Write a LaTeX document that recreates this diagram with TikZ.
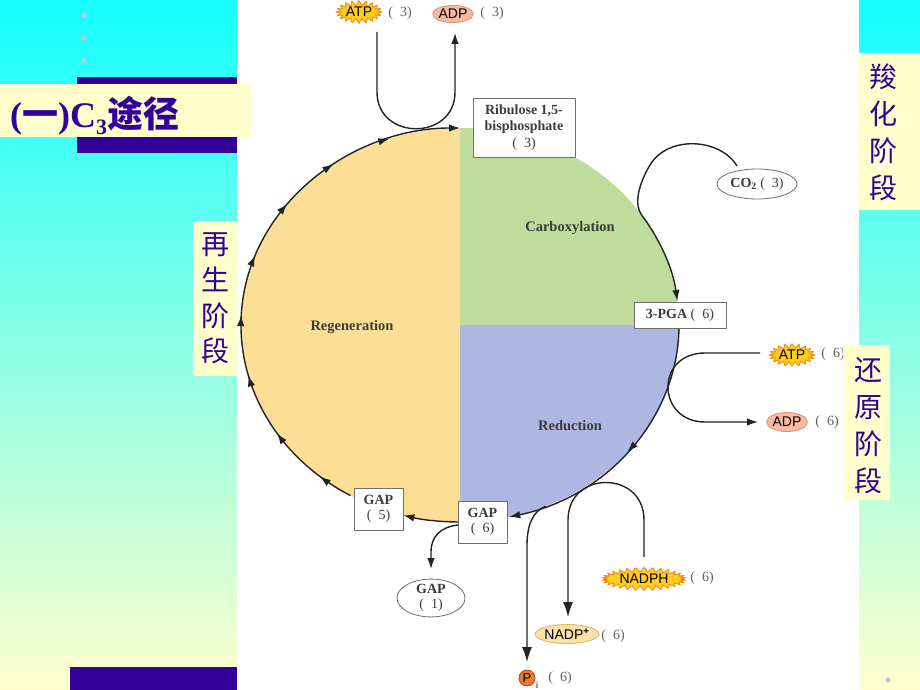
\documentclass[tikz,border=0pt]{standalone}
\usepackage{fontspec}
\setmainfont{Liberation Serif}
\newfontfamily\sansf{Liberation Sans}
\newfontfamily\cjk{Noto Sans CJK SC}
\usetikzlibrary{shapes.geometric,shapes.symbols,arrows.meta,decorations.markings,calc}
\definecolor{indigo}{RGB}{51,0,153}
\definecolor{bgcyan}{RGB}{20,255,255}
\definecolor{bgmid}{RGB}{150,255,232}
\definecolor{bgyel}{RGB}{255,255,204}
\definecolor{regyel}{RGB}{252,223,148}
\definecolor{carbgr}{RGB}{191,220,156}
\definecolor{redbl}{RGB}{174,183,226}
\definecolor{txtg}{RGB}{60,60,60}
\definecolor{numg}{RGB}{95,95,95}
\definecolor{lineg}{RGB}{35,35,35}
\definecolor{boxd}{RGB}{110,110,110}
\definecolor{atpy}{RGB}{255,205,30}
\definecolor{atpo}{RGB}{240,140,20}
\definecolor{adpf}{RGB}{248,186,163}
\definecolor{adpd}{RGB}{228,140,110}
\definecolor{nadpf}{RGB}{252,226,168}
\definecolor{nadpd}{RGB}{230,176,96}
\definecolor{pif}{RGB}{240,120,48}
\definecolor{pid}{RGB}{170,70,20}
\definecolor{dotg}{RGB}{195,195,212}
\begin{document}
\begin{tikzpicture}[x=1pt,y=-1pt,line join=round,
  cyc/.style={draw=lineg,line width=1.4pt},
  tip/.style={-{Latex[length=11pt,width=7.5pt]}},
  bigtip/.style={-{Latex[length=15pt,width=10pt]}},
  molbox/.style={rectangle,draw=boxd,fill=white,line width=0.9pt,align=center,inner sep=0pt,text=txtg,font=\fontsize{14}{14.5}\selectfont},
  molell/.style={ellipse,draw=boxd,fill=white,line width=0.8pt,align=center,inner sep=0pt,text=txtg,font=\fontsize{14}{14.5}\selectfont},
  num/.style={inner sep=0pt,text=numg,font=\fontsize{14}{15}\selectfont},
  phase/.style={inner sep=0pt,text=txtg,font=\bfseries\fontsize{14.5}{16}\selectfont},
  burst/.style={starburst,starburst points=20,starburst point height=4.5pt,random starburst=0,fill=atpy,draw=atpo,line width=0.9pt,inner sep=0pt,text=black,font=\sansf\fontsize{14}{14}\selectfont},
  oval/.style={ellipse,inner sep=0pt,line width=0.8pt,text=black,font=\sansf\fontsize{14}{14}\selectfont},
  cntext/.style={inner sep=0pt,align=center,text=indigo,font=\cjk\fontsize{28}{37}\selectfont},
]
\useasboundingbox (0,0) rectangle (920,690);
% ---------- slide background ----------
\fill[white] (0,0) rectangle (920,690);
\shade[top color=bgcyan,middle color=bgmid,bottom color=bgyel] (0,0) rectangle (237,690);
\shade[top color=bgcyan,middle color=bgmid,bottom color=bgyel] (859,0) rectangle (920,690);
\fill[bgyel] (0,84) rectangle (251,137);
\fill[indigo] (77,77) rectangle (237,84);
\fill[indigo] (77,137) rectangle (237,153);
\fill[indigo] (70,667) rectangle (237,690);
\foreach \yy in {15,38,61} \fill[dotg] (84,\yy) circle[radius=2.6pt];
\fill[dotg] (888,680) circle[radius=2.6pt];
\node[anchor=base west,inner sep=0pt,text=indigo] (title) at (10,128)
  {\fontsize{36}{40}\selectfont\bfseries(\cjk 一\rmfamily)C\raisebox{-6pt}{\fontsize{22}{22}\selectfont 3}\cjk 途径};
% ---------- cycle geometry ----------
\coordinate (c) at (460,325);
\coordinate (e0) at ($(c)+(0:219pt and 197pt)$);
\coordinate (e7) at ($(c)+(7:219pt and 197pt)$);
\coordinate (e34) at ($(c)+(34:219pt and 197pt)$);
\coordinate (e90) at ($(c)+(90:219pt and 197pt)$);
\coordinate (e240) at ($(c)+(240:219pt and 197pt)$);
\coordinate (e270) at ($(c)+(270:219pt and 197pt)$);
\coordinate (em1) at ($(c)+(-1:219pt and 197pt)$);
\coordinate (epi) at ($(c)+(-67:219pt and 197pt)$);
\fill[regyel] (c) -- (e90) arc[start angle=90,end angle=270,x radius=219pt,y radius=197pt] -- cycle;
\fill[carbgr] (c) -- (e0) arc[start angle=0,end angle=90,x radius=219pt,y radius=197pt] -- cycle;
\fill[redbl] (c) -- (e270) arc[start angle=270,end angle=360,x radius=219pt,y radius=197pt] -- cycle;
\node[phase] (carb) at (570,228) {Carboxylation};
\node[phase] (regen) at (352,327) {Regeneration};
\node[phase] (redn) at (570,426) {Reduction};
% ---------- connectors ----------
\draw[cyc,tip,postaction={decorate},decoration={markings,
  mark=at position 0.067 with {\arrow{Latex[length=11pt,width=7.5pt]}},
  mark=at position 0.18 with {\arrow{Latex[length=11pt,width=7.5pt]}},
  mark=at position 0.30 with {\arrow{Latex[length=11pt,width=7.5pt]}},
  mark=at position 0.413 with {\arrow{Latex[length=11pt,width=7.5pt]}},
  mark=at position 0.527 with {\arrow{Latex[length=11pt,width=7.5pt]}},
  mark=at position 0.64 with {\arrow{Latex[length=11pt,width=7.5pt]}},
  mark=at position 0.753 with {\arrow{Latex[length=11pt,width=7.5pt]}},
  mark=at position 0.867 with {\arrow{Latex[length=11pt,width=7.5pt]}}}]
  (e240) arc[start angle=240,end angle=90,x radius=219pt,y radius=197pt];
\draw[cyc,tip] (e270) arc[start angle=270,end angle=255,x radius=219pt,y radius=197pt];
\coordinate (co2s) at (737,166);
\draw[cyc,tip] (co2s) .. controls (720,138) and (668,135) .. (650,165)
  .. controls (638,185) and (634,205) .. (e34)
  arc[start angle=34,end angle=7,x radius=219pt,y radius=197pt];
\draw[cyc,tip,postaction={decorate},decoration={markings,
  mark=at position 0.5 with {\arrow{Latex[length=11pt,width=7.5pt]}}}]
  (em1) arc[start angle=-1,end angle=-77,x radius=219pt,y radius=197pt];
\coordinate (u1) at (377,32);
\coordinate (u2) at (455,33);
\draw[cyc,tip] (u1) -- (377,92) .. controls (377,141) and (455,141) .. (455,92) -- (u2);
\coordinate (r1) at (760,353);
\coordinate (r2) at (758,422);
\draw[cyc,tip] (r1) -- (705,353) .. controls (682,353) and (668,368) .. (668,387)
  .. controls (668,406) and (682,422) .. (705,422) -- (r2);
\coordinate (n1) at (644,557);
\coordinate (n2) at (568,617);
\draw[cyc,bigtip] (n1) -- (644,520) .. controls (644,470) and (568,470) .. (568,520) -- (n2);
\coordinate (p2) at (527,662);
\draw[cyc,bigtip] (epi) .. controls (533,511) and (527,525) .. (527,545) -- (p2);
\coordinate (g1s) at (458,525);
\coordinate (g1e) at (431,569);
\draw[cyc,tip] (g1s) .. controls (441,527) and (431,536) .. (431,552) -- (g1e);
% ---------- molecule boxes ----------
\node[molbox,minimum width=102pt,minimum height=59pt,font=\fontsize{14}{16.5}\selectfont] (rubp) at (524,127.5)
  {\textbf{Ribulose 1,5-}\\\textbf{bisphosphate}\\(\enspace3)};
\node[molbox,minimum width=92pt,minimum height=26pt] (pga) at (680,315) {\textbf{3-PGA} (\enspace6)};
\node[molbox,minimum width=49pt,minimum height=42pt] (gap5) at (378.5,509) {\textbf{GAP}\\(\enspace5)};
\node[molbox,minimum width=49pt,minimum height=42pt] (gap6) at (482.5,522) {\textbf{GAP}\\(\enspace6)};
\node[molell,minimum width=68pt,minimum height=34pt] (gap1) at (431,598) {\textbf{GAP}\\(\enspace1)};
\node[molell,minimum width=80pt,minimum height=30pt] (co2) at (757,184) {\textbf{CO\textsubscript{2}} (\enspace3)};
% ---------- cofactors ----------
\node[burst,minimum width=45pt,minimum height=22pt] (atp1) at (359,12) {ATP};
\node[num] (atp1n) at (400,13) {(\enspace3)};
\node[oval,fill=adpf,draw=adpd,minimum width=38pt,minimum height=17pt] (adp1) at (453,14) {ADP};
\node[num] (adp1n) at (492,13) {(\enspace3)};
\node[burst,minimum width=44pt,minimum height=21pt] (atp2) at (792,355) {ATP};
\node[num] (atp2n) at (833,354) {(\enspace6)};
\node[oval,fill=adpf,draw=adpd,minimum width=40pt,minimum height=19pt] (adp2) at (787,422) {ADP};
\node[num] (adp2n) at (827,422) {(\enspace6)};
\node[burst,minimum width=84pt,minimum height=23pt,starburst points=30] (nadph) at (644,579) {NADPH};
\node[num] (nadphn) at (702,578) {(\enspace6)};
\node[oval,fill=nadpf,draw=nadpd,minimum width=50pt,minimum height=19pt] (nadp) at (567,634) {NADP\textsuperscript{\textbf{+}}};
\node[num] (nadpn) at (613,636) {(\enspace6)};
\node[circle,fill=pif,draw=pid,line width=0.8pt,minimum size=16pt,inner sep=0pt,font=\sansf\fontsize{13}{13}\selectfont] (pi) at (527,678) {P};
\node[inner sep=0pt,font=\sansf\fontsize{9}{9}\selectfont] (pisub) at (537,685) {i};
\node[num] (pin) at (560,678) {(\enspace6)};
% ---------- stage labels ----------
\fill[bgyel] (858,53) rectangle (920,210);
\node[cntext] (carblab) at (883,132) {羧\\化\\阶\\段};
\fill[bgyel] (843,345) rectangle (890,500);
\node[cntext] (redlab) at (868,426) {还\\原\\阶\\段};
\fill[bgyel] (193,221) rectangle (237,376);
\node[cntext,font=\cjk\fontsize{28}{35.7}\selectfont] (reglab) at (215,298.5) {再\\生\\阶\\段};
\end{tikzpicture}
\end{document}
